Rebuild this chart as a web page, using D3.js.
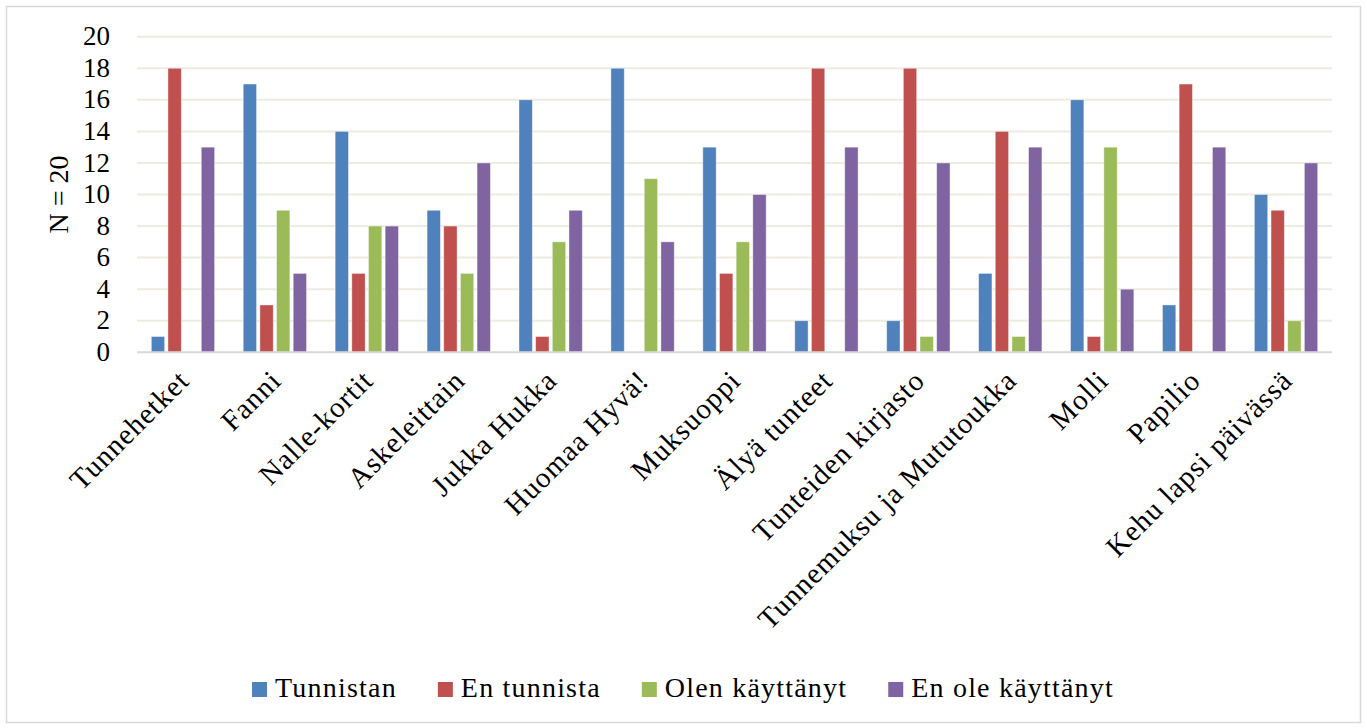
<!DOCTYPE html>
<meta charset="utf-8">
<head>
<title>tunnetaitomateriaalit</title>
<script src="https://cdn.jsdelivr.net/npm/d3@7"></script>
<style>
  body { margin: 0; background: #fff; }
  svg text { font-family: "Liberation Serif", "DejaVu Serif", serif !important; fill: #000; }
</style>
</head>
<body>

<div id="chart"></div>

<script>

const width = 1367;
const height = 728;

// categories and series
const categories = [
  "Tunnehetket", "Fanni", "Nalle-kortit", "Askeleittain", "Jukka Hukka",
  "Huomaa Hyvä!", "Muksuoppi", "Älyä tunteet", "Tunteiden kirjasto",
  "Tunnemuksu ja Mututoukka", "Molli", "Papilio", "Kehu lapsi päivässä"
];
const seriesNames = ["Tunnistan", "En tunnista", "Olen käyttänyt", "En ole käyttänyt"];
const colors = ["#4f81bd", "#c0504d", "#9bbb59", "#8064a2"];

const tunnistan     = [1, 17, 14, 9, 16, 18, 13, 2, 2, 5, 16, 3, 10];
const enTunnista    = [18, 3, 5, 8, 1, 0, 5, 18, 18, 14, 1, 17, 9];
const olenKayttanyt = [0, 9, 8, 5, 7, 11, 7, 0, 1, 1, 13, 0, 2];
const enOleKaytt    = [13, 5, 8, 12, 9, 7, 10, 13, 12, 13, 4, 13, 12];

const yTicks = [0, 2, 4, 6, 8, 10, 12, 14, 16, 18, 20];

const seriesValues = [tunnistan, enTunnista, olenKayttanyt, enOleKaytt];

const rows = categories.map((c, i) => ({
  name: c,
  vals: seriesValues.map((s, j) => ({ key: seriesNames[j], value: s[i], color: colors[j] }))
}));

const svg = d3.select("#chart")
  .append("svg")
  .attr("width", width)
  .attr("height", height);

// outer frame
svg.append("rect")
  .attr("x", 6.5).attr("y", 6.5)
  .attr("width", 1354).attr("height", 716)
  .attr("fill", "#fff")
  .attr("stroke", "#d9d9d9")
  .attr("stroke-width", 1.5);

const plot = { left: 137, right: 1332, top: 36.7, bottom: 352.3 };

const x0 = d3.scaleBand()
  .domain(categories)
  .range([plot.left, plot.right]);

const groupW = x0.bandwidth() * 0.725;
const x1 = d3.scaleBand()
  .domain(seriesNames)
  .range([0, groupW])
  .paddingInner(0.2)
  .paddingOuter(0.1);

const y = d3.scaleLinear()
  .domain([0, 20])
  .range([plot.bottom, plot.top]);

// gridlines
svg.append("g")
  .selectAll("line")
  .data(yTicks.filter(d => d > 0))
  .join("line")
    .attr("x1", plot.left)
    .attr("x2", plot.right)
    .attr("y1", d => y(d))
    .attr("y2", d => y(d))
    .attr("stroke", "#eeece1")
    .attr("stroke-width", 2);

// y axis labels
const yAxis = svg.append("g")
  .attr("transform", `translate(${plot.left},0)`)
  .call(d3.axisLeft(y).tickValues(yTicks).tickSize(0).tickPadding(27));
yAxis.attr("font-family", null).attr("font-size", null);
yAxis.select(".domain").remove();
yAxis.selectAll("text")
  .style("font-size", "27px")
  .attr("dy", "0.3em");

// bars
const group = svg.append("g")
  .selectAll("g")
  .data(rows)
  .join("g")
    .attr("transform", d => `translate(${x0(d.name) + (x0.bandwidth() - groupW) / 2},0)`);

group.selectAll("rect")
  .data(d => d.vals.filter(v => v.value > 0))
  .join("rect")
    .attr("x", d => x1(d.key))
    .attr("y", d => y(d.value))
    .attr("width", x1.bandwidth())
    .attr("height", d => y(0) - y(d.value))
    .attr("fill", d => d.color)
    .attr("stroke", "#fff")
    .attr("stroke-opacity", 0.5)
    .attr("stroke-width", 0.8);

// baseline
svg.append("line")
  .attr("x1", plot.left).attr("x2", plot.right)
  .attr("y1", y(0)).attr("y2", y(0))
  .attr("stroke", "#d9d9d9")
  .attr("stroke-width", 2);

// category labels
svg.append("g")
  .selectAll("text")
  .data(categories)
  .join("text")
    .attr("transform", d => `translate(${x0(d) + x0.bandwidth() / 2 + 8},${plot.bottom + 30}) rotate(-45)`)
    .attr("text-anchor", "end")
    .style("font-size", "29px")
    .style("letter-spacing", "1px")
    .text(d => d);

// y title
svg.append("text")
  .attr("transform", `translate(68,${(plot.top + plot.bottom) / 2}) rotate(-90)`)
  .attr("text-anchor", "middle")
  .style("font-size", "28px")
  .text("N = 20");

// legend
const legend = svg.append("g");
const items = legend.selectAll("g")
  .data(seriesNames)
  .join("g");

items.append("rect")
  .attr("width", 15)
  .attr("height", 15)
  .attr("y", -15)
  .attr("fill", (d, i) => colors[i]);

items.append("text")
  .attr("x", 23)
  .style("font-size", "28px")
  .style("letter-spacing", "1.2px")
  .text(d => d);

let xpos = 0;
const gap = 41;
items.each(function() {
  const w = 23 + this.querySelector("text").getComputedTextLength();
  d3.select(this).attr("transform", `translate(${xpos},697)`);
  xpos += w + gap;
});
const totalW = xpos - gap;
legend.attr("transform", `translate(${683 - totalW / 2},0)`);

</script>

</body>
